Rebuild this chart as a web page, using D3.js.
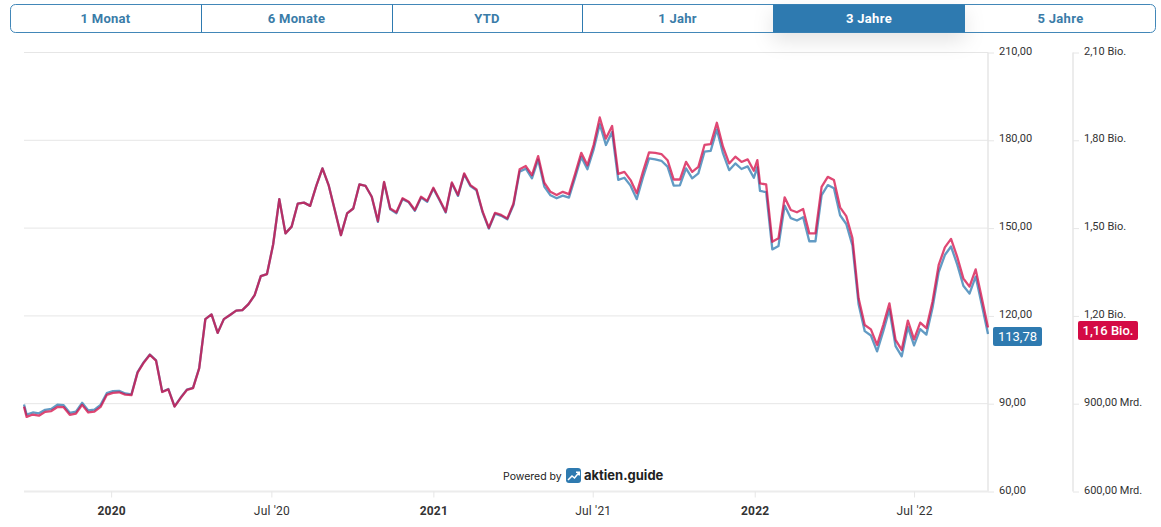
<!DOCTYPE html>
<html><head><meta charset="utf-8">
<script src="https://cdn.jsdelivr.net/npm/d3@7/dist/d3.min.js"></script>
<style>html,body{margin:0;padding:0;background:#fff}svg{display:block}text{font-family:Roboto,sans-serif}</style>
</head><body><div id="c"></div>
<script>
const rangeButtons = ["1 Monat","6 Monate","YTD","1 Jahr","3 Jahre","5 Jahre"];
const activeButton = "3 Jahre";
const leftTicks = [60,90,120,150,180,210];
const leftLabels = ["60,00","90,00","120,00","150,00","180,00","210,00"];
const rightTicks = [600,900,1200,1500,1800,2100];
const rightLabels = ["600,00 Mrd.","900,00 Mrd.","1,20 Bio.","1,50 Bio.","1,80 Bio.","2,10 Bio."];
const timeTicks = ["2020-01-01","2020-07-01","2021-01-01","2021-07-01","2022-01-01","2022-07-01"];
const timeLabels = ["2020","Jul '20","2021","Jul '21","2022","Jul '22"];
const firstDate = "2019-09-24", extraDate = "2022-01-04", firstFriday = "2019-09-27", lastFriday = "2022-09-23";
// Kurs (EUR-Achse links)
const price = [89.7,86.3,87.0,86.7,87.9,88.2,89.7,89.5,86.9,87.3,90.3,87.7,88.0,89.6,
93.6,94.3,94.4,93.5,93.2,100.8,104.2,106.8,104.8,94.1,95.0,89.1,92.1,94.8,95.4,102.2,
118.9,120.5,114.2,118.9,120.3,121.8,122.0,124.0,127.1,133.6,134.3,144.4,159.9,148.2,150.5,158.4,158.7,157.6,164.4,170.4,164.7,156.2,147.6,155.0,156.7,164.9,164.4,160.7,
152.1,165.6,156.4,155.1,159.9,158.8,155.9,160.4,159.0,163.5,159.5,155.3,165.3,161.0,168.4,164.4,162.9,155.3,149.8,154.9,154.2,153.0,
157.9,169.3,170.3,167.0,173.4,164.2,161.2,160.2,161.1,160.4,167.2,174.3,170.1,176.8,
185.5,178.4,182.8,166.5,167.2,164.5,159.9,167.2,173.8,173.5,173.0,171.0,164.5,164.6,170.4,167.0,168.7,176.1,176.4,183.7,175.5,169.8,172.1,170.2,171.1,167.2,170.8,
162.7,162.3,142.7,143.9,157.7,153.4,152.6,153.7,145.5,145.5,161.3,164.7,163.6,154.4,151.4,144.1,124.0,114.8,113.3,107.9,114.7,122.2,109.7,106.2,116.2,109.9,115.5,113.6,122.8,135.0,140.8,143.7,137.6,130.3,127.6,133.4,123.7,113.78];
// Marktkapitalisierung in Mrd. (rechte Achse)
const marketCap = [890,855,863,859,872,875,889,888,862,866,896,870,873,889,
930,937,939,931,929,1006,1040,1067,1047,940,949,890,920,947,953,1021,
1189,1205,1142,1189,1203,1218,1220,1240,1271,1336,1343,1444,1599,1482,1505,1584,1587,1576,1644,1704,1647,1562,1476,1550,1567,1649,1644,1607,
1524,1658,1567,1554,1602,1590,1562,1607,1593,1638,1598,1556,1656,1613,1687,1647,1632,1556,1501,1552,1545,1533,
1584,1701,1712,1681,1746,1655,1624,1613,1624,1616,1685,1757,1715,1784,
1878,1806,1849,1685,1692,1664,1619,1692,1759,1757,1753,1732,1666,1666,1726,1692,1709,1784,1787,1860,1778,1721,1744,1726,1735,1696,1732,
1653,1649,1453,1465,1605,1562,1554,1565,1482,1482,1641,1675,1664,1571,1541,1466,1260,1169,1154,1101,1169,1243,1118,1084,1184,1120,1177,1158,1249,1374,1434,1463,1402,1328,1300,1359,1260,1160];
const priceBadge = "113,78", capBadge = "1,16 Bio.";

const W=1161,H=527;
const parse=d3.utcParse("%Y-%m-%d");
const dates=[parse(firstDate),...d3.utcFriday.range(parse(firstFriday),d3.utcDay.offset(parse(lastFriday),1)),parse(extraDate)].sort(d3.ascending);
const x=d3.scaleUtc().domain([parse(firstDate),parse(lastFriday)]).range([24,988]);
const yL=d3.scaleLinear().domain([60,210]).range([491.5,52.5]);
const yR=d3.scaleLinear().domain([600,2100]).range([491.5,52.5]);
const svg=d3.select("#c").append("svg").attr("width",W).attr("height",H);
const defs=svg.append("defs");
const f=defs.append("filter").attr("id","sh").attr("x","-30%").attr("y","-50%").attr("width","160%").attr("height","300%");
f.append("feDropShadow").attr("dx",0).attr("dy",8).attr("stdDeviation",10).attr("flood-color","#000").attr("flood-opacity",0.11);

// Gitter und Achsen
const gridColor="#e6e6e6", axisColor="#ececec", txt="#333";
const gLeft=svg.append("g").attr("transform","translate(988,0)");
gLeft.call(d3.axisRight(yL).tickValues(leftTicks).tickSize(6).tickPadding(5).tickFormat((d,i)=>leftLabels[i]));
const gRight=svg.append("g").attr("transform","translate(1073,0)");
gRight.call(d3.axisRight(yR).tickValues(rightTicks).tickSize(6).tickPadding(5).tickFormat((d,i)=>rightLabels[i]));
for(const g of [gLeft,gRight]){
  g.select(".domain").attr("stroke",axisColor).attr("stroke-width",2).attr("d","M0,52.5V491.5");
  g.selectAll(".tick line").attr("stroke",gridColor);
  g.selectAll(".tick text").attr("fill",txt).attr("font-size",11).attr("font-family","Roboto,sans-serif").attr("dy","0.15em");
}
svg.append("g").selectAll("line").data(leftTicks).join("line")
 .attr("x1",24).attr("x2",988).attr("y1",d=>yL(d)).attr("y2",d=>yL(d))
 .attr("stroke",d=>d===60?axisColor:gridColor).attr("stroke-width",d=>d===60?2:1);
const gx=svg.append("g").attr("transform","translate(0,491.5)");
gx.call(d3.axisBottom(x).tickValues(timeTicks.map(parse)).tickSize(6).tickPadding(9).tickFormat((d,i)=>timeLabels[i]));
gx.select(".domain").remove();
gx.selectAll(".tick line").attr("stroke",gridColor);
gx.selectAll(".tick text").attr("fill",txt).attr("font-size",12).attr("font-family","Roboto,sans-serif")
  .attr("font-weight",(d,i)=>i%2===0?700:400).attr("letter-spacing",0.2);

// Linien
const lineP=d3.line().x((d,i)=>x(dates[i])).y(d=>yL(d));
const lineC=d3.line().x((d,i)=>x(dates[i])).y(d=>yR(d));
svg.append("path").attr("d",lineP(price)).attr("fill","none").attr("stroke","#2e7ab0").attr("stroke-opacity",0.75).attr("stroke-width",2.3).attr("stroke-linejoin","round");
svg.append("path").attr("d",lineC(marketCap)).attr("fill","none").attr("stroke","#d40b45").attr("stroke-opacity",0.75).attr("stroke-width",2.3).attr("stroke-linejoin","round");

// Badges
function badge(bx,by,w,h,fill,t,fw){
  svg.append("rect").attr("x",bx).attr("y",by).attr("width",w).attr("height",h).attr("rx",2).attr("fill",fill);
  svg.append("text").attr("x",bx+w/2).attr("y",by+h/2+4.5).attr("text-anchor","middle").attr("fill","#fff").attr("font-size",13).attr("font-weight",fw).text(t);
}
badge(993,327,49,19,"#2e7ab0",priceBadge,400);
badge(1078,321,60,19,"#d40b45",capBadge,500);

// Logo-Zeile
svg.append("text").attr("x",503).attr("y",480).attr("font-size",10.5).attr("fill","#222").style("font-family","Inter,sans-serif").text("Powered by");
svg.append("rect").attr("x",566).attr("y",468).attr("width",15).attr("height",15).attr("rx",3).attr("fill","#2e7ab0");
svg.append("path").attr("d","M568,480L572,476L574.5,478L579,472.5M576,472.3H579.3V475.6").attr("fill","none").attr("stroke","#fff").attr("stroke-width",1.5);
svg.append("text").attr("x",584).attr("y",480).attr("font-size",13).attr("font-weight",700).attr("fill","#222").style("font-family","Inter,sans-serif").text("aktien.guide");

// Buttons
const bx=[10,201,392,582,773,965,1156];
const bar=svg.append("g");
const ai=rangeButtons.indexOf(activeButton);
bar.append("rect").attr("x",bx[ai]).attr("y",4.5).attr("width",bx[ai+1]-bx[ai]).attr("height",28).attr("fill","#2e7ab0").attr("filter","url(#sh)");
bar.append("rect").attr("x",10.5).attr("y",4.5).attr("width",1145).attr("height",28).attr("rx",5).attr("fill","none").attr("stroke","#2e7ab0").attr("stroke-opacity",0.9).attr("stroke-width",1);
bar.selectAll("line").data([1,2,3]).join("line").attr("x1",d=>bx[d]+.5).attr("x2",d=>bx[d]+.5).attr("y1",4.5).attr("y2",32.5).attr("stroke","#2e7ab0");
bar.selectAll("text").data(rangeButtons).join("text")
 .attr("x",(d,i)=>(bx[i]+bx[i+1])/2).attr("y",23).attr("text-anchor","middle")
 .attr("font-size",13).attr("font-weight",700).attr("letter-spacing",0.3)
 .attr("fill",d=>d===activeButton?"#fff":"#3a7ca8").text(d=>d);
</script></body></html>
